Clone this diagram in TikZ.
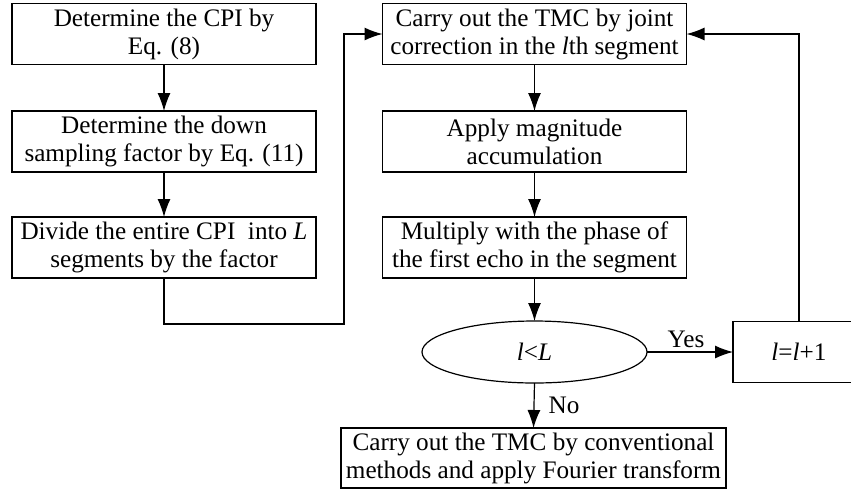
\documentclass[tikz,border=0pt]{standalone}
\usepackage{fontspec}
\setmainfont{Liberation Serif}
\usetikzlibrary{arrows.meta,shapes.geometric}

\tikzset{
  flowbox/.style={draw,line width=0.6pt,inner sep=0pt,outer sep=0pt,align=center,
    minimum width=152pt,minimum height=30.5pt},
  decide/.style={draw,ellipse,line width=0.6pt,inner sep=0pt,outer sep=0pt,
    minimum width=112.5pt,minimum height=31pt},
  flowarrow/.style={line width=0.6pt,-{Latex[length=9pt,width=6.5pt]}},
  tag/.style={font=\fontsize{12.6}{14}\selectfont}
}

\begin{document}
\begin{tikzpicture}[x=0.5pt,y=-0.5pt,line cap=butt,line join=miter,
  font=\fontsize{12.6}{14}\selectfont]
  \useasboundingbox (0,0) rectangle (851,488);
  \clip (0,0) rectangle (851,488);
  % left column
  \node[flowbox] (detcpi) at (164,34) {Determine the CPI by\\Eq. (8)};
  \node[flowbox] (sampling) at (164,141.5) {Determine the down\\sampling factor by Eq. (11)};
  \node[flowbox] (divide) at (164,247.5) {Divide the entire CPI \ into \textit{L}\\segments by the factor};
  % right column
  \node[flowbox] (tmcjoint) at (534.5,34) {Carry out the TMC by joint\\correction in the \textit{l}th segment};
  \node[flowbox] (magnitude) at (534.5,141.5) {Apply magnitude\\accumulation};
  \node[flowbox] (multiply) at (534.5,247.5) {Multiply with the phase of\\the first echo in the segment};
  \node[decide] (check) at (534.5,352) {\textit{l}<\textit{L}};
  \node[flowbox,minimum width=66pt] (incr) at (799,352) {\textit{l}=\textit{l}+1};
  \node[flowbox,minimum width=192.5pt,minimum height=30pt] (conv) at (533.5,458)
    {Carry out the TMC by conventional\\methods and apply Fourier transform};
  \coordinate (turn) at (344,324);
  % connectors
  \draw[flowarrow] (detcpi) -- (sampling);
  \draw[flowarrow] (sampling) -- (divide);
  \draw[flowarrow] (divide.south) |- (turn) |- (tmcjoint.west);
  \draw[flowarrow] (tmcjoint) -- (magnitude);
  \draw[flowarrow] (magnitude) -- (multiply);
  \draw[flowarrow] (multiply) -- (check);
  \draw[flowarrow] (check.east) -- node[above,tag,inner sep=2pt,xshift=-2pt] {Yes} (incr.west);
  \draw[flowarrow] (incr.north) |- (tmcjoint.east);
  \draw[flowarrow] (check.south) -- node[right,tag,inner sep=0pt,xshift=7pt] {No} (conv.north);
\end{tikzpicture}
\end{document}
